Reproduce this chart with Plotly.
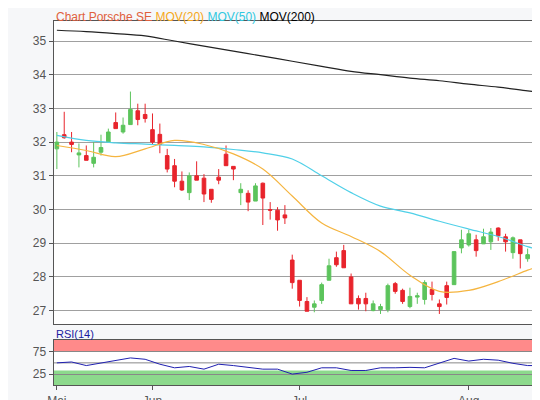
import pandas as pd
import plotly.graph_objects as go

dates = pd.bdate_range("2019-05-15", "2019-08-15")
month_names = {5: "Mai", 6: "Jun", 7: "Jul", 8: "Aug"}

opens = [31.8, 32.22, 32.0, 31.62, 31.6, 31.37, 31.7, 32.0, 32.58, 32.3, 32.52, 32.93, 32.82,
         32.37, 32.23, 31.6, 31.3, 30.84, 30.5, 31.0, 30.93, 30.6, 30.96, 31.64, 31.28, 30.5,
         30.48, 30.25, 30.78, 30.0, 29.98, 29.84, 28.5, 27.9, 27.27, 27.1, 27.3, 27.9, 28.57,
         28.78, 28.0, 27.36, 27.36, 27.0, 27.03, 27.03, 27.8, 27.6, 27.12, 27.4, 27.33, 27.63,
         27.2, 27.74, 27.77, 28.86, 28.95, 29.1, 28.98, 29.04, 29.45, 29.19, 28.72, 29.1, 28.54,
         28.54, 28.16]
highs = [32.3, 32.9, 32.3, 31.96, 31.9, 32.0, 32.22, 32.4, 32.88, 32.73, 33.5, 33.14, 33.14,
         32.85, 32.55, 31.8, 31.5, 31.13, 31.1, 31.43, 31.05, 30.6, 31.2, 31.9, 31.28, 30.78,
         30.57, 30.78, 30.8, 30.22, 30.07, 30.13, 28.66, 27.9, 27.4, 27.3, 27.83, 28.54, 28.75,
         28.95, 28.1, 27.45, 27.53, 27.3, 27.2, 27.8, 27.85, 27.65, 27.68, 27.53, 27.9, 27.86,
         27.33, 27.86, 28.75, 29.4, 29.4, 29.25, 29.43, 29.45, 29.47, 29.28, 29.2, 29.1, 28.84,
         28.54, 28.25]
lows = [31.2, 32.1, 31.7, 31.25, 31.46, 31.25, 31.6, 32.0, 32.4, 32.25, 32.52, 32.5, 32.58,
        31.93, 31.67, 31.1, 30.66, 30.55, 30.28, 30.87, 30.22, 30.2, 30.75, 31.3, 30.87, 30.13,
        29.95, 30.25, 29.54, 29.7, 29.37, 29.57, 27.65, 27.12, 26.98, 26.95, 27.2, 27.9, 28.3,
        28.27, 27.2, 27.03, 26.98, 26.98, 26.9, 26.95, 27.5, 27.2, 27.07, 27.2, 27.18, 27.3,
        26.9, 27.18, 27.77, 28.7, 28.9, 28.6, 28.98, 28.8, 29.07, 28.75, 28.54, 28.25, 28.45,
        28.16, 27.95]
closes = [32.0, 32.13, 31.93, 31.68, 31.46, 31.55, 31.84, 32.3, 32.4, 32.5, 32.97, 32.67, 32.7,
          32.0, 31.93, 31.2, 30.84, 30.58, 31.0, 30.87, 30.46, 30.3, 30.87, 31.3, 31.2, 30.6,
          30.22, 30.7, 30.34, 29.98, 29.69, 29.75, 27.83, 27.3, 26.98, 27.2, 27.77, 28.33, 28.36,
          28.27, 27.2, 27.2, 27.2, 27.2, 27.12, 27.74, 27.57, 27.27, 27.42, 27.44, 27.83, 27.48,
          27.12, 27.39, 28.75, 29.1, 29.28, 28.78, 29.19, 29.33, 29.22, 29.04, 29.16, 28.69, 28.66,
          28.16, 27.95]

# moving averages and RSI read at selected candle positions
ma_idx = [0, 4, 8, 12, 16, 20, 24, 28, 32, 36, 40, 44, 48, 52, 56, 60, 64, 66]
mov200 = [35.32, 35.28, 35.22, 35.15, 35.0, 34.85, 34.7, 34.55, 34.4, 34.25, 34.1, 34.0,
          33.9, 33.82, 33.72, 33.63, 33.52, 33.47]
mov50 = [32.2, 32.05, 31.98, 31.94, 31.9, 31.86, 31.78, 31.68, 31.5, 31.0, 30.5, 30.1,
         29.9, 29.65, 29.42, 29.2, 28.9, 28.78]
mov20 = [31.9, 31.75, 31.57, 31.8, 32.05, 31.93, 31.65, 31.2, 30.4, 29.6, 29.2, 28.75,
         28.05, 27.57, 27.6, 27.86, 28.2, 28.36]
rsi_idx = list(range(0, 67, 2)) + [66]
rsi = [50, 52, 44, 50, 56, 61, 58, 47, 39, 42, 36, 47, 44, 40, 36, 36, 25, 29, 39, 39,
       33, 33, 39, 39, 40, 39, 50, 60, 54, 58, 56, 49, 44, 44]

x = list(range(len(dates)))
tickvals, ticktext = [], []
for i, d in enumerate(dates):
    if i == 0 or d.month != dates[i - 1].month:
        tickvals.append(i)
        ticktext.append(month_names[d.month])

red = "#e8242c"
green = "#5cc45c"
grid = "#a0a0a0"

fig = go.Figure()
fig.add_trace(go.Candlestick(
    x=x, open=opens, high=highs, low=lows, close=closes,
    increasing=dict(line=dict(color=green, width=1), fillcolor=green),
    decreasing=dict(line=dict(color=red, width=1), fillcolor=red),
    whiskerwidth=0, xaxis="x", yaxis="y", hoverinfo="skip"))
fig.add_trace(go.Scatter(x=ma_idx, y=mov200, mode="lines", line=dict(color="#222222", width=1.2),
                         line_shape="spline", xaxis="x", yaxis="y"))
fig.add_trace(go.Scatter(x=ma_idx, y=mov50, mode="lines", line=dict(color="#50d0e8", width=1.2),
                         line_shape="spline", xaxis="x", yaxis="y"))
fig.add_trace(go.Scatter(x=ma_idx, y=mov20, mode="lines", line=dict(color="#f5b540", width=1.2),
                         line_shape="spline", xaxis="x", yaxis="y"))
fig.add_trace(go.Scatter(x=rsi_idx, y=rsi, mode="lines", line=dict(color="#2020b0", width=1),
                         xaxis="x2", yaxis="y2"))

# RSI zones
fig.add_shape(type="rect", xref="x2 domain", yref="y2", x0=0, x1=1, y0=75, y1=102,
              fillcolor="#ff8a8a", line_width=0, layer="below")
fig.add_shape(type="rect", xref="x2 domain", yref="y2", x0=0, x1=1, y0=0, y1=33,
              fillcolor="#8cd98c", line_width=0, layer="below")
fig.add_shape(type="line", xref="x2 domain", yref="y2", x0=0, x1=1, y0=50, y1=50,
              line=dict(color="#888888", width=1), layer="below")

xr = [-0.45, 66.5]
fig.update_layout(
    width=540, height=400, showlegend=False,
    margin=dict(l=0, r=0, t=0, b=0),
    paper_bgcolor="#f6f7f9", plot_bgcolor="white",
    font=dict(family="Liberation Sans, Arial, sans-serif", size=12, color="#555555"),
    xaxis=dict(domain=[40 / 540, 538 / 540], range=xr, anchor="y", showticklabels=False,
               showgrid=False, rangeslider=dict(visible=False), showline=True, mirror=True,
               linecolor="#555555", zeroline=False, ticks=""),
    yaxis=dict(domain=[0.205, 0.967], range=[26.59, 35.59], dtick=1, anchor="x",
               gridcolor=grid, showline=True, mirror=True, linecolor="#555555",
               ticks="outside", ticklen=4, tickcolor="#555555", zeroline=False),
    xaxis2=dict(domain=[40 / 540, 538 / 540], range=xr, anchor="y2", tickvals=tickvals,
                ticktext=ticktext, showgrid=False, showline=True, mirror=True,
                linecolor="#555555", ticks="outside", ticklen=4, tickcolor="#555555",
                zeroline=False),
    yaxis2=dict(domain=[0.052, 0.167], range=[0, 102], tickvals=[25, 75], anchor="x2",
                gridcolor="#888888", showline=True, mirror=True, linecolor="#555555",
                ticks="outside", ticklen=4, tickcolor="#555555", zeroline=False),
)

fig.add_annotation(xref="paper", yref="paper", x=40 / 540, y=1.0, xanchor="left", yanchor="top",
                   showarrow=False, font=dict(size=12),
                   text="<span style='color:#e0603c'>Chart Porsche SE</span> "
                        "<span style='color:#f5a820'>MOV(20)</span> "
                        "<span style='color:#30c8e0'>MOV(50)</span> "
                        "<span style='color:#000000'>MOV(200)</span>")
fig.add_annotation(xref="paper", yref="paper", x=40 / 540, y=0.2, xanchor="left", yanchor="top",
                   showarrow=False, font=dict(size=11, color="#1a1aa0"), text="RSI(14)")

fig.write_html("out.html")
